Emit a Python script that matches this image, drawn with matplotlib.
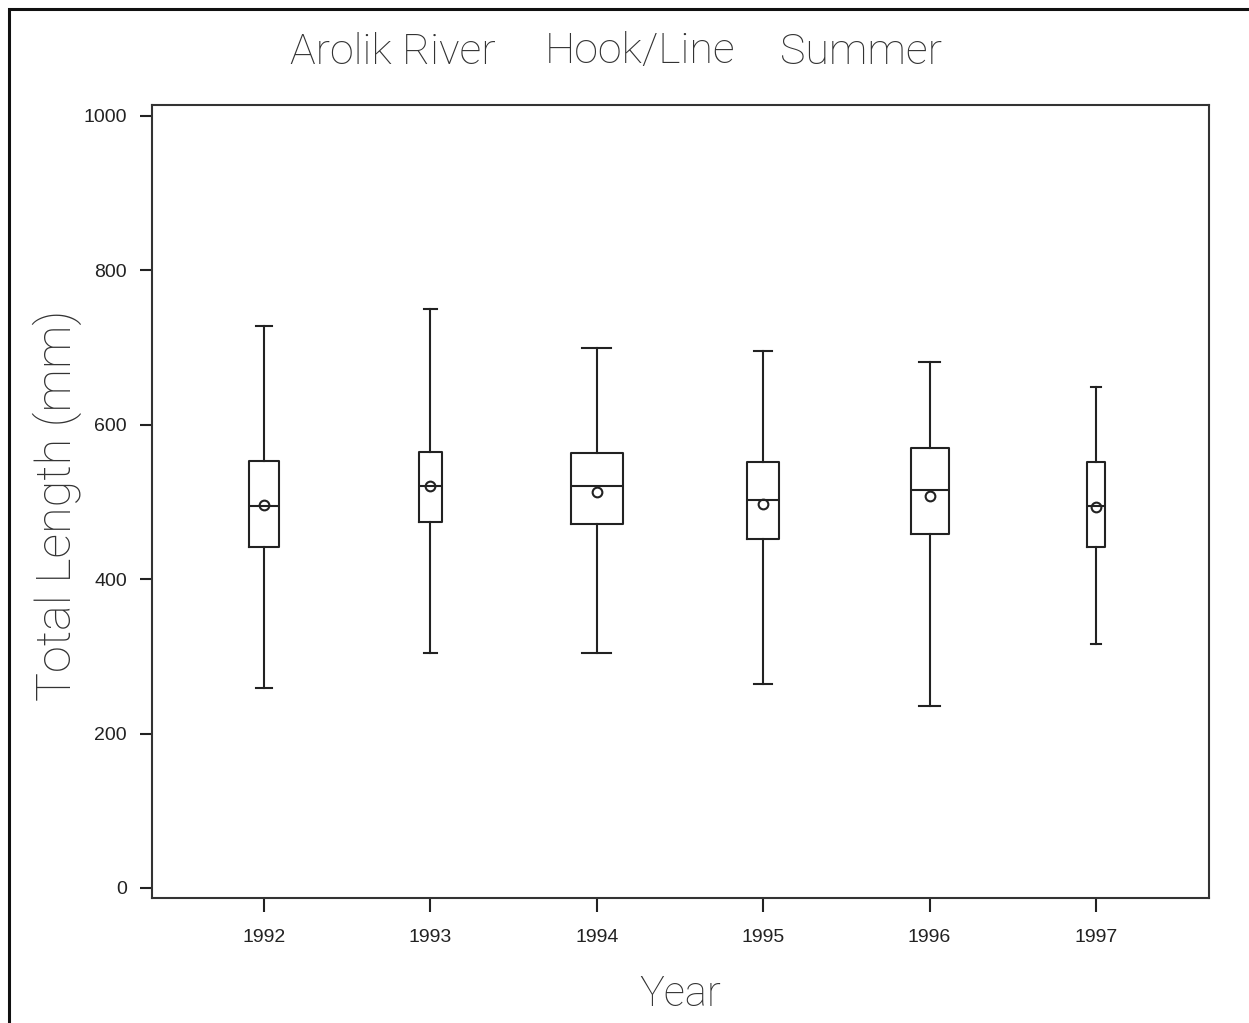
import matplotlib
matplotlib.use('Agg')
import matplotlib.pyplot as plt
from matplotlib.patches import Rectangle

# values (Total Length, mm)
years = [1992, 1993, 1994, 1995, 1996, 1997]
whisker_low = [259, 305, 305, 264, 236, 316]
q1 = [442, 474, 471, 452, 459, 442]
medians = [495, 521, 521, 502, 516, 495]
q3 = [553, 565, 564, 552, 570, 552]
whisker_high = [728, 750, 700, 695, 681, 649]
means = [496, 521, 513, 498, 508, 493]

title_parts = ['Arolik River', 'Hook/Line', 'Summer']

# box widths in the picture differ per year
box_widths = [0.18, 0.138, 0.313, 0.192, 0.228, 0.108]

stats = []
for i in range(len(years)):
    stats.append({'whislo': whisker_low[i], 'q1': q1[i], 'med': medians[i],
                  'q3': q3[i], 'whishi': whisker_high[i], 'mean': means[i],
                  'fliers': []})

fig = plt.figure(figsize=(12.49, 10.23), dpi=100)
ax = fig.add_axes([152 / 1249, 1 - 898 / 1023, (1209 - 152) / 1249, (898 - 105) / 1023])

lw = 1.5
ax.bxp(stats, positions=years, widths=box_widths,
       capwidths=[w * 0.55 for w in box_widths],
       showmeans=True, showfliers=False,
       boxprops=dict(color='#222222', linewidth=lw),
       whiskerprops=dict(color='#222222', linewidth=lw),
       capprops=dict(color='#222222', linewidth=lw),
       medianprops=dict(color='#222222', linewidth=lw),
       meanprops=dict(marker='o', markerfacecolor='none', markeredgecolor='#222222',
                      markersize=7, markeredgewidth=1.5))

ax.set_xlim(1991.327, 1997.679)
ax.set_ylim(-13, 1014.2)
ax.set_xticks(years)
ax.set_xticklabels([str(y) for y in years])
ax.set_yticks([0, 200, 400, 600, 800, 1000])

for s in ax.spines.values():
    s.set_linewidth(lw)
    s.set_color('#333333')

ax.tick_params(axis='y', length=9, width=lw, pad=9, colors='#222222')
ax.tick_params(axis='x', length=10, width=lw, pad=12, colors='#222222')
for lab in ax.get_xticklabels() + ax.get_yticklabels():
    lab.set_family('Liberation Sans')
    lab.set_fontsize(14)

light = dict(family='Roboto', weight='light', color='#333333')
# title words are spread out in the original, so place each one
for part, xc in zip(title_parts, [393, 640, 861]):
    fig.text(xc / 1249, 1 - 52 / 1023, part, ha='center', va='center',
             fontsize=31, **light)
fig.text(680 / 1249, 1 - 995 / 1023, 'Year', ha='center', va='center',
         fontsize=30, **light)
fig.text(57 / 1249, 1 - 505 / 1023, 'Total Length (mm)', ha='center', va='center',
         rotation=90, fontsize=35, **light)

# outer frame of the picture (runs off the right and bottom edges)
fig.patches.append(Rectangle((9 / 1249, -0.05), 1.1, 1 - 9 / 1023 + 0.05,
                             transform=fig.transFigure, fill=False,
                             edgecolor='#111111', linewidth=2.2))

fig.savefig('out.png', dpi=100)
